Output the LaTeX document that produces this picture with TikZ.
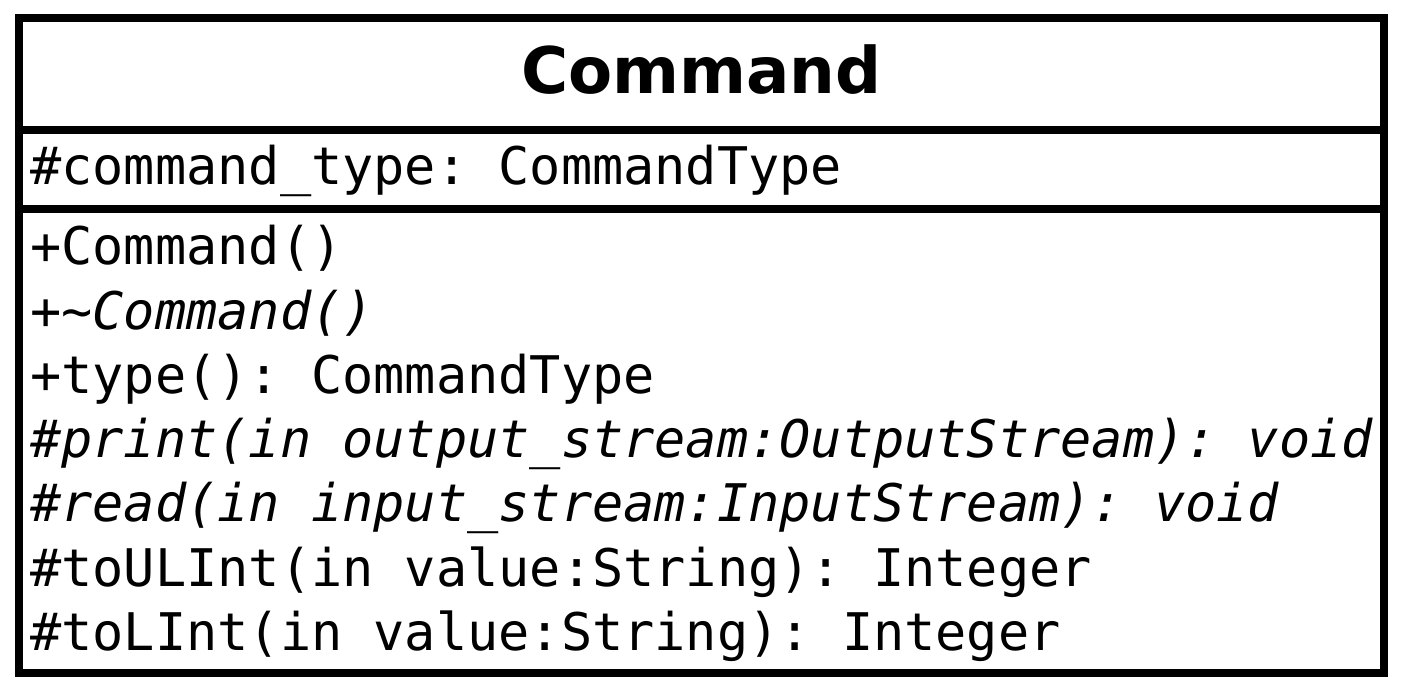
\documentclass[tikz,border=0pt]{standalone}
\usepackage{fontspec}
\setmainfont{DejaVu Sans}
\setmonofont{DejaVu Sans Mono}

\newcommand{\us}{\char"5F\relax}

\tikzset{
	classname/.style={anchor=base, inner sep=0pt, font=\fontsize{48.2}{58}\selectfont\bfseries},
	member/.style={anchor=base west, inner sep=0pt, font=\fontsize{38.9}{46}\ttfamily},
	abstract/.style={member, font=\fontsize{38.9}{46}\ttfamily\itshape}
}

\begin{document}
\begin{tikzpicture}[x=0.75pt,y=0.75pt,yscale=-1,xscale=1]
	\useasboundingbox (0,0) rectangle (1402,691);
	
	%class box and compartments
	\draw [line width=6pt] (19,18) rectangle (1384,673);
	\draw [line width=6pt] (19,130) -- (1384,130);
	\draw [line width=6pt] (19,209) -- (1384,209);
	
	\node [classname] (title) at (701.5,94) {Command};
	
	\node [member] (attr) at (30,185) {\#command\us type: CommandType};
	
	\node [member] (ctor) at (30,265) {+Command()};
	\node [member] (dtor) at (30,329.2) {+\textit{\textasciitilde Command()}};
	\node [member] (type) at (30,393.4) {+type(): CommandType};
	\node [abstract] (print) at (30,457.6) {\#print(in output\us stream:OutputStream): void};
	\node [abstract] (read) at (30,521.8) {\#read(in input\us stream:InputStream): void};
	\node [member] (toulint) at (30,586) {\#toULInt(in value:String): Integer};
	\node [member] (tolint) at (30,650.2) {\#toLInt(in value:String): Integer};
	
\end{tikzpicture}
\end{document}
